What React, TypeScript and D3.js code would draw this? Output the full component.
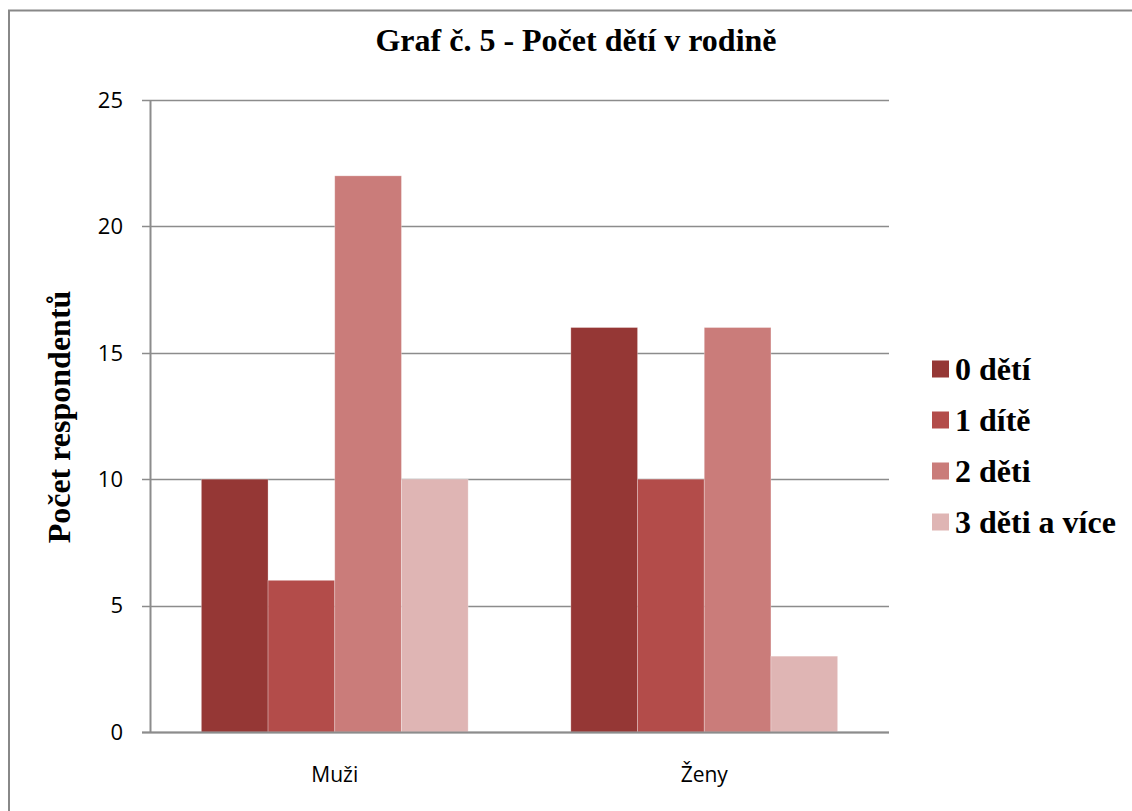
import { useEffect, useRef } from "react";
import * as d3 from "d3";

const CATEGORIES = ["Muži", "Ženy"];
const SERIES = ["0 dětí", "1 dítě", "2 děti", "3 děti a více"];
const COLORS = ["#953735", "#b34c4a", "#ca7c7a", "#dfb5b4"];
const VALUES: number[][] = [
  [10, 16], // 0 dětí
  [6, 10],  // 1 dítě
  [22, 16], // 2 děti
  [10, 3],  // 3 děti a více
];
const Y_TICKS = [0, 5, 10, 15, 20, 25];

const W = 1132, H = 811;
const m = { left: 150, right: 243, top: 100, bottom: 79 };
const SERIF = "'Liberation Serif', 'Times New Roman', serif";
const SANS = "'Open Sans', 'Noto Sans', sans-serif";

export default function App() {
  const ref = useRef<SVGSVGElement>(null);

  useEffect(() => {
    document.body.style.margin = "0";
    if (!ref.current) return;
    const svg = d3.select(ref.current);
    svg.selectAll("*").remove();

    const iW = W - m.left - m.right;
    const iH = H - m.top - m.bottom;

    // outer frame (only left/top visible)
    svg.append("path")
      .attr("d", `M9,${H} V10.5 H${W}`)
      .attr("fill", "none").attr("stroke", "#888").attr("stroke-width", 2);

    svg.append("text")
      .attr("x", 576).attr("y", 51)
      .attr("text-anchor", "middle")
      .attr("font-family", SERIF)
      .attr("font-weight", "bold").attr("font-size", "32px")
      .text("Graf č. 5 - Počet dětí v rodině");

    const x0 = d3.scaleBand().domain(CATEGORIES).range([0, iW]);
    const x1 = d3.scaleBand().domain(SERIES).range([0, x0.bandwidth()]).paddingOuter(0.77);
    const y = d3.scaleLinear().domain([0, 25]).range([iH, 0]);

    const g = svg.append("g").attr("transform", `translate(${m.left},${m.top})`);

    // gridlines
    g.append("g").selectAll("line")
      .data(Y_TICKS)
      .enter().append("line")
      .attr("x1", -8).attr("x2", iW)
      .attr("y1", d => Math.round(y(d)) + 0.5).attr("y2", d => Math.round(y(d)) + 0.5)
      .attr("stroke", "#8c8c8c").attr("stroke-width", 1.5);

    // bars
    SERIES.forEach((s, si) => {
      g.append("g").selectAll("rect")
        .data(CATEGORIES)
        .enter().append("rect")
        .attr("x", c => (x0(c) ?? 0) + (x1(s) ?? 0))
        .attr("y", (_, ci) => y(VALUES[si][ci]))
        .attr("width", x1.bandwidth())
        .attr("height", (_, ci) => iH - y(VALUES[si][ci]))
        .attr("fill", COLORS[si])
        .attr("stroke", "rgba(255,255,255,0.35)")
        .attr("stroke-width", 0.8);
    });

    // y axis line
    g.append("line")
      .attr("x1", 0.5).attr("x2", 0.5)
      .attr("y1", 0).attr("y2", iH)
      .attr("stroke", "#8c8c8c").attr("stroke-width", 2);
    // x axis line
    g.append("line")
      .attr("x1", -8).attr("x2", iW)
      .attr("y1", iH + 0.5).attr("y2", iH + 0.5)
      .attr("stroke", "#8c8c8c").attr("stroke-width", 2);

    // y tick labels
    g.append("g").selectAll("text")
      .data(Y_TICKS)
      .enter().append("text")
      .attr("x", -27).attr("y", d => y(d))
      .attr("dy", "0.35em")
      .attr("text-anchor", "end")
      .attr("font-family", SANS)
      .attr("font-size", "22px")
      .attr("fill", "#000")
      .text(d => String(d));

    // x category labels
    g.append("g").selectAll("text")
      .data(CATEGORIES)
      .enter().append("text")
      .attr("x", c => (x0(c) ?? 0) + x0.bandwidth() / 2)
      .attr("y", iH + 50)
      .attr("text-anchor", "middle")
      .attr("font-family", SANS)
      .attr("font-size", "21px")
      .text(c => c);

    // y title
    svg.append("text")
      .attr("transform", `translate(70,417) rotate(-90)`)
      .attr("text-anchor", "middle")
      .attr("font-family", SERIF)
      .attr("font-weight", "bold").attr("font-size", "32px")
      .text("Počet respondentů");

    // legend
    const lg = svg.append("g").attr("transform", "translate(932,369)");
    SERIES.forEach((s, i) => {
      const row = lg.append("g").attr("transform", `translate(0,${i * 51})`);
      row.append("rect")
        .attr("x", 0).attr("y", -8.5)
        .attr("width", 17).attr("height", 17)
        .attr("fill", COLORS[i]);
      row.append("text")
        .attr("x", 23).attr("y", 0).attr("dy", "0.35em")
        .attr("font-family", SERIF)
        .attr("font-weight", "bold").attr("font-size", "32px")
        .text(s);
    });
  }, []);

  return <svg ref={ref} width={W} height={H} style={{ display: "block", background: "white" }} />;
}
